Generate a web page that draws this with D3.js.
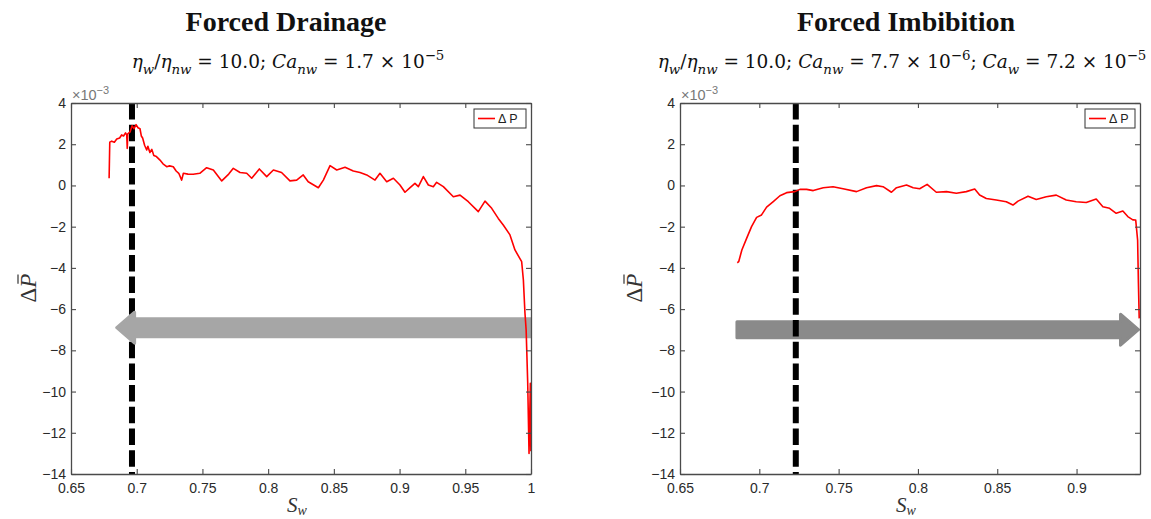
<!DOCTYPE html>
<html><head><meta charset="utf-8">
<script src="https://cdn.jsdelivr.net/npm/d3@7"></script>
<style>body{margin:0;background:#fff} svg{display:block}</style>
</head><body><svg id="c" width="1151" height="519"></svg>
<script>
// ---------- DATA ----------
const drainSw = [0.6790,0.6795,0.6810,0.6830,0.6848,0.6870,0.6885,0.6900,0.6915,0.6924,0.6928,0.6932,0.6950,0.6965,0.6980,0.6995,0.7010,0.7025,0.7035,0.7045,0.7060,0.7076,0.7085,0.7100,0.7115,0.7130,0.7150,0.7177,0.7200,0.7228,0.7250,0.7278,0.7300,0.7320,0.7342,0.7355,0.7390,0.7430,0.7480,0.7532,0.7583,0.7647,0.7700,0.7735,0.7786,0.7837,0.7875,0.7933,0.7989,0.8040,0.8102,0.8166,0.8217,0.8267,0.8305,0.8382,0.8420,0.8471,0.8522,0.8585,0.8648,0.8699,0.8750,0.8813,0.8851,0.8902,0.8953,0.9003,0.9041,0.9080,0.9117,0.9143,0.9181,0.9219,0.9257,0.9282,0.9333,0.9409,0.9460,0.9523,0.9599,0.9650,0.9701,0.9751,0.9789,0.9840,0.9878,0.9929,0.9942,0.9954,0.9963,0.9975,0.9985,0.9995,0.9999];
const drainDP = [0.35,2.10,2.15,2.10,2.25,2.30,2.45,2.40,2.55,2.45,1.80,2.50,2.60,2.90,2.75,2.95,2.80,2.75,2.40,2.30,1.95,1.72,1.90,1.60,1.75,1.45,1.40,1.23,1.05,0.91,0.95,0.91,0.70,0.59,0.26,0.59,0.55,0.54,0.59,0.86,0.75,0.22,0.55,0.83,0.63,0.59,0.35,0.80,0.43,0.75,0.63,0.22,0.26,0.51,0.18,-0.11,0.26,0.96,0.75,0.88,0.70,0.63,0.51,0.26,0.59,0.18,0.35,0.02,-0.33,-0.11,0.10,-0.06,0.43,0.02,-0.06,0.15,-0.06,-0.55,-0.47,-0.79,-1.27,-0.76,-1.11,-1.60,-1.92,-2.40,-3.13,-3.70,-4.59,-6.19,-7.00,-9.60,-13.00,-9.60,-12.90];
const imbSw = [0.6861,0.6870,0.6890,0.6920,0.6951,0.6983,0.7014,0.7046,0.7088,0.7130,0.7172,0.7224,0.7256,0.7298,0.7340,0.7403,0.7465,0.7528,0.7613,0.7676,0.7739,0.7780,0.7833,0.7865,0.7928,0.7970,0.8011,0.8058,0.8116,0.8180,0.8242,0.8305,0.8358,0.8389,0.8431,0.8494,0.8557,0.8599,0.8631,0.8694,0.8746,0.8809,0.8872,0.8935,0.8998,0.9061,0.9124,0.9166,0.9208,0.9250,0.9292,0.9323,0.9355,0.9373,0.9385,0.9390,0.9395];
const imbDP = [-3.75,-3.70,-3.13,-2.57,-2.00,-1.55,-1.43,-1.05,-0.78,-0.50,-0.35,-0.30,-0.19,-0.19,-0.25,-0.11,-0.06,-0.16,-0.30,-0.11,-0.01,-0.06,-0.33,-0.11,0.02,-0.11,-0.16,0.05,-0.33,-0.30,-0.38,-0.30,-0.17,-0.46,-0.63,-0.71,-0.79,-0.95,-0.76,-0.52,-0.68,-0.55,-0.47,-0.71,-0.79,-0.83,-0.66,-1.03,-1.11,-1.35,-1.24,-1.51,-1.67,-1.68,-2.65,-4.75,-6.45];
const drainXTicks = [0.65,0.7,0.75,0.8,0.85,0.9,0.95,1];
const imbXTicks = [0.65,0.7,0.75,0.8,0.85,0.9];
const yTicks = [-14,-12,-10,-8,-6,-4,-2,0,2,4];
const drainXDomain = [0.65, 1.0];
const imbXDomain = [0.65, 0.94];
const yDomain = [-14, 4];
const titles = ["Forced Drainage", "Forced Imbibition"];
const drainSubtitle = [["η","i"],["w","isub"],["/","n"],["η","i"],["nw","isub"],[" = 10.0; ","n"],["Ca","i"],["nw","isub"],[" = 1.7 × 10","n"],["−5","sup"]];
const imbSubtitle = [["η","i"],["w","isub"],["/","n"],["η","i"],["nw","isub"],[" = 10.0; ","n"],["Ca","i"],["nw","isub"],[" = 7.7 × 10","n"],["−6","sup"],["; ","n"],["Ca","i"],["w","isub"],[" = 7.2 × 10","n"],["−5","sup"]];
const legendLabel = "Δ P";
const drainFront = 0.6964, imbFront = 0.723;
const drainArrow = {from: 1.0, headBack: 0.6984, tip: 0.6848, y: -6.9};
const imbArrow = {from: 0.6859, headBack: 0.9277, tip: 0.939, y: -7.0};

// ---------- DRAW ----------
const svg = d3.select("#c");
const axisColor = "#4a4a4a";

function richText(g, x, y, segs, size, anchor) {
  const t = g.append("text").attr("x", x).attr("y", y).attr("text-anchor", anchor)
    .attr("font-family", "'DejaVu Serif', serif").attr("font-size", size).attr("fill", "#111");
  let cur = 0;
  segs.forEach(([s, k]) => {
    let off = 0, fs = size, it = false;
    if (k === "i") it = true;
    if (k === "isub") { it = true; off = size * 0.3; fs = size * 0.72; }
    if (k === "sup") { off = -size * 0.42; fs = size * 0.72; }
    t.append("tspan").attr("dy", off - cur).attr("font-size", fs)
      .attr("font-style", it ? "italic" : "normal").attr("xml:space", "preserve").text(s);
    cur = off;
  });
  return t;
}

function panel(cfg) {
  const x = d3.scaleLinear().domain(cfg.xDomain).range(cfg.xRange);
  const y = d3.scaleLinear().domain(yDomain).range([474, 103]);
  const g = svg.append("g");
  const clipId = "clip" + cfg.id;
  g.append("clipPath").attr("id", clipId).append("rect")
    .attr("x", cfg.xRange[0]).attr("y", 103).attr("width", cfg.xRange[1] - cfg.xRange[0]).attr("height", 371);

  // titles
  g.append("text").attr("x", cfg.titleX).attr("y", 31).attr("text-anchor", "middle")
    .attr("font-family", "'Liberation Serif', serif").attr("font-weight", "bold")
    .attr("font-size", 28).attr("fill", "#111").text(cfg.title);
  richText(g, cfg.subX, 68, cfg.subtitle, 18.5, "middle");

  const plot = g.append("g").attr("clip-path", `url(#${clipId})`);
  const dashed = () => plot.append("line")
    .attr("x1", x(cfg.front)).attr("x2", x(cfg.front)).attr("y1", y(4)).attr("y2", y(-14))
    .attr("stroke", "#000").attr("stroke-width", 6).attr("stroke-dasharray", "16.5,5.2");
  const arrow = () => {
    const a = cfg.arrow;
    const yc = y(a.y), hs = cfg.shaftHalf, hh = 15.5;
    const pts = [[x(a.from), yc - hs], [x(a.headBack), yc - hs], [x(a.headBack), yc - hh], [x(a.tip), yc],
                 [x(a.headBack), yc + hh], [x(a.headBack), yc + hs], [x(a.from), yc + hs]];
    plot.append("path").attr("d", d3.line()(pts) + "Z").attr("fill", cfg.arrowColor)
      .attr("stroke", cfg.arrowColor).attr("stroke-width", 3).attr("stroke-linejoin", "round");
  };
  if (cfg.arrowOnTop) { dashed(); arrow(); } else { arrow(); dashed(); }

  const data = cfg.sw.map((s, i) => [s, cfg.dp[i]]);
  plot.append("path").datum(data)
    .attr("d", d3.line().x(d => x(d[0])).y(d => y(d[1])))
    .attr("fill", "none").attr("stroke", "#ff0000").attr("stroke-width", 1.6).attr("stroke-linejoin", "round");

  const fmtX = d => String(+d.toFixed(2));
  const fmtY = d => d < 0 ? "−" + Math.abs(d) : String(d);
  const styleAxis = (sel) => {
    sel.selectAll("path.domain").attr("stroke", axisColor).attr("stroke-width", 1.3);
    sel.selectAll(".tick line").attr("stroke", axisColor).attr("stroke-width", 1.1);
    sel.selectAll(".tick text").attr("font-family", "'Liberation Sans', Arial, sans-serif")
      .attr("font-size", 14).attr("fill", "#2a2a2a");
  };
  g.append("g").attr("transform", "translate(0,474)")
    .call(d3.axisBottom(x).tickValues(cfg.xTicks).tickFormat(fmtX).tickSize(-5).tickSizeOuter(0).tickPadding(9)).call(styleAxis);
  g.append("g").attr("transform", "translate(0,103)")
    .call(d3.axisTop(x).tickValues(cfg.xTicks).tickFormat("").tickSize(-5).tickSizeOuter(0)).call(styleAxis);
  g.append("g").attr("transform", `translate(${cfg.xRange[0]},0)`)
    .call(d3.axisLeft(y).tickValues(yTicks).tickFormat(fmtY).tickSize(-5).tickSizeOuter(0).tickPadding(5)).call(styleAxis);
  g.append("g").attr("transform", `translate(${cfg.xRange[1]},0)`)
    .call(d3.axisRight(y).tickValues(yTicks).tickFormat("").tickSize(-5).tickSizeOuter(0)).call(styleAxis);

  // exponent label
  const ex = g.append("text").attr("x", cfg.xRange[0] + 1).attr("y", 100)
    .attr("font-family", "'Liberation Sans', Arial, sans-serif").attr("font-size", 14.5).attr("fill", "#777");
  ex.append("tspan").text("×10");
  ex.append("tspan").attr("dy", -6).attr("font-size", 11).text("−3");

  // legend
  const lx1 = cfg.xRange[1] - cfg.legendW - 5, ly = y(4) + 6;
  g.append("rect").attr("x", lx1).attr("y", ly).attr("width", cfg.legendW).attr("height", 19)
    .attr("fill", "#fff").attr("stroke", "#333").attr("stroke-width", 1);
  g.append("line").attr("x1", lx1 + 4).attr("x2", lx1 + 21).attr("y1", ly + 9.5).attr("y2", ly + 9.5)
    .attr("stroke", "#ff0000").attr("stroke-width", 1.6);
  g.append("text").attr("x", lx1 + 24).attr("y", ly + 14).attr("font-family", "'Liberation Sans', Arial, sans-serif")
    .attr("font-size", 12.5).attr("fill", "#222").attr("xml:space", "preserve").text(legendLabel);

  // axis labels
  const tr = `translate(${cfg.yLabelX},288) rotate(-90)`;
  const yl = g.append("text").attr("transform", tr)
    .attr("text-anchor", "middle").attr("font-family", "'Liberation Serif', serif").attr("font-size", 23).attr("fill", "#333");
  yl.append("tspan").text("Δ");
  yl.append("tspan").attr("font-style", "italic").text("P");
  const tnode = yl.node();
  const ext = tnode.getExtentOfChar(tnode.getNumberOfChars() - 1);
  g.append("line").attr("transform", tr)
    .attr("x1", ext.x + 4).attr("x2", ext.x + ext.width - 1).attr("y1", ext.y + 2).attr("y2", ext.y + 2)
    .attr("stroke", "#333").attr("stroke-width", 1.2);

  const xl = g.append("text").attr("x", (cfg.xRange[0] + cfg.xRange[1]) / 2 - 4).attr("y", 512)
    .attr("text-anchor", "middle").attr("font-family", "'Liberation Serif', serif").attr("font-size", 21)
    .attr("font-style", "italic").attr("fill", "#333");
  xl.append("tspan").text("S");
  xl.append("tspan").attr("dy", 3).attr("font-size", 14).text("w");
}

panel({id: 1, xDomain: drainXDomain, xRange: [71, 531], xTicks: drainXTicks, sw: drainSw, dp: drainDP,
  title: titles[0], titleX: 286, subtitle: drainSubtitle, subX: 288, front: drainFront, arrow: drainArrow,
  arrowColor: "#a6a6a6", arrowOnTop: true, shaftHalf: 9, legendW: 52, yLabelX: 36});
panel({id: 2, xDomain: imbXDomain, xRange: [680, 1140], xTicks: imbXTicks, sw: imbSw, dp: imbDP,
  title: titles[1], titleX: 906, subtitle: imbSubtitle, subX: 902, front: imbFront, arrow: imbArrow,
  arrowColor: "#8a8a8a", arrowOnTop: false, shaftHalf: 8, legendW: 50, yLabelX: 642});
</script></body></html>
